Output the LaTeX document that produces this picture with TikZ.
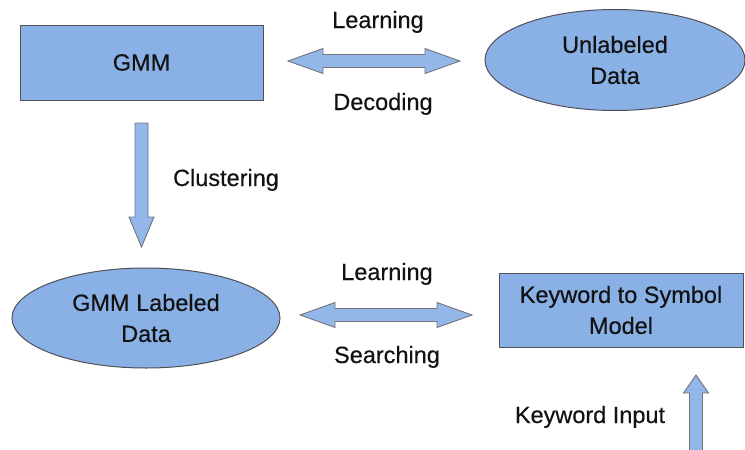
\documentclass[tikz,border=0pt]{standalone}
\usepackage{fontspec}
\setmainfont{Liberation Sans}[FakeBold=0.4]
\usetikzlibrary{shapes.geometric,calc}

\definecolor{boxfill}{RGB}{138,177,230}
\definecolor{boxline}{RGB}{80,80,88}
\definecolor{txt}{RGB}{18,18,18}

\tikzset{
  labelfont/.style={font=\fontsize{23.5}{31}\selectfont\addfontfeature{FakeBold=0.4}},
  shapebase/.style={draw=boxline, line width=1pt, fill=boxfill, text=txt,
    labelfont, align=center, inner sep=0pt},
  block/.style={shapebase, rectangle},
  oval/.style={shapebase, ellipse},
  caption/.style={text=txt, labelfont, anchor=base, inner sep=0pt},
  blockarrow/.style={draw=boxline!80, line width=0.9pt, fill=boxfill!92!white,
    line join=miter}
}

% horizontal double-headed block arrow between two tips
\newcommand\dblarrowH[2]{%
  \draw[blockarrow] let \p1=(#1), \p2=(#2) in
    (\x1,\y1) -- (\x1+35pt,\y1+12.5pt) -- (\x1+35pt,\y1+6.5pt)
    -- (\x2-35pt,\y2+6.5pt) -- (\x2-35pt,\y2+12.5pt) -- (\x2,\y2)
    -- (\x2-35pt,\y2-12.5pt) -- (\x2-35pt,\y2-6.5pt)
    -- (\x1+35pt,\y1-6.5pt) -- (\x1+35pt,\y1-12.5pt) -- cycle;}

% vertical single block arrow from tail to tip; #3 = signed head length
\newcommand\vertarrow[3]{%
  \draw[blockarrow] let \p1=(#1), \p2=(#2) in
    (\x1-6.5pt,\y1) -- (\x1+6.5pt,\y1) -- (\x2+6.5pt,\y2+#3)
    -- (\x2+12.5pt,\y2+#3) -- (\x2,\y2) -- (\x2-12.5pt,\y2+#3)
    -- (\x2-6.5pt,\y2+#3) -- cycle;}

\begin{document}
\begin{tikzpicture}[x=1pt,y=-1pt]
  \useasboundingbox (0,0) rectangle (745,450);
  \clip (0,0) rectangle (745,450);

  % main blocks
  \node[block, minimum width=243pt, minimum height=75pt] (gmm) at (141.5,62.5) {GMM};
  \node[oval, minimum width=260pt, minimum height=101pt] (unlab) at (615,60) {Unlabeled\\Data};
  \node[oval, minimum width=268pt, minimum height=100pt] (labeled) at (146,318) {GMM Labeled\\Data};
  \node[block, minimum width=244pt, minimum height=74pt] (kwmodel) at (621,310) {Keyword to Symbol\\Model};

  % arrow end points
  \coordinate (topL) at (288,61);
  \coordinate (topR) at (460,61);
  \coordinate (botL) at (300,315);
  \coordinate (botR) at (472,315);
  \coordinate (clusTail) at (141.5,123);
  \coordinate (clusTip) at (141.5,247);
  \coordinate (kwTail) at (696,455);
  \coordinate (kwTip) at (696,375);

  \dblarrowH{topL}{topR}
  \dblarrowH{botL}{botR}
  \vertarrow{clusTail}{clusTip}{30pt}
  \vertarrow{kwTail}{kwTip}{-18pt}

  % arrow captions
  \node[caption] (learn1) at (378,28) {Learning};
  \node[caption] (decode) at (383,110) {Decoding};
  \node[caption] (cluster) at (226,186) {Clustering};
  \node[caption] (learn2) at (387,280) {Learning};
  \node[caption] (search) at (387,363) {Searching};
  \node[caption] (kwin) at (590,423) {Keyword Input};
\end{tikzpicture}
\end{document}
